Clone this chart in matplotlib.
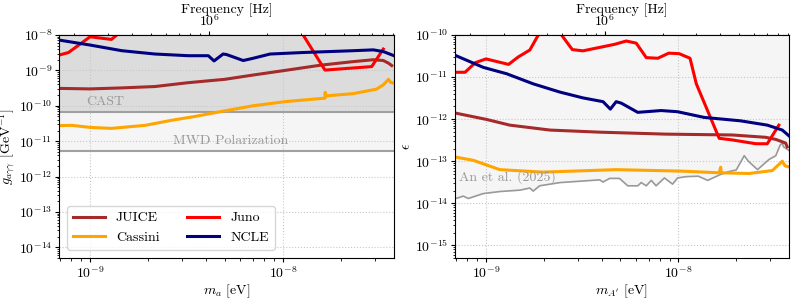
import matplotlib
matplotlib.use("Agg")
import matplotlib.pyplot as plt

plt.rcParams['font.family'] = 'serif'
plt.rcParams['font.serif'] = ['cmr10']
plt.rcParams['mathtext.fontset'] = 'cm'
plt.rcParams['axes.formatter.use_mathtext'] = True
plt.rcParams['font.size'] = 10

# ---- axion panel (left) ----
juice_m = [6.9e-10, 1.0e-9, 1.46e-9, 2.17e-9, 3.23e-9, 5.0e-9, 7.0e-9, 1.0e-8,
           1.56e-8, 2.31e-8, 2.94e-8, 3.31e-8, 3.52e-8, 3.66e-8]
juice_g = [3.1e-10, 3.0e-10, 3.2e-10, 3.5e-10, 4.5e-10, 5.6e-10, 7.4e-10, 9.8e-10,
           1.4e-9, 1.77e-9, 2.0e-9, 1.9e-9, 1.6e-9, 1.37e-9]

cassini_m = [6.9e-10, 8.04e-10, 1.0e-9, 1.29e-9, 1.93e-9, 2.65e-9, 3.5e-9, 5.0e-9,
             7.0e-9, 1.04e-8, 1.65e-8, 1.655e-8, 1.66e-8, 2.31e-8, 3.05e-8, 3.31e-8,
             3.52e-8, 3.61e-8, 3.72e-8]
cassini_g = [2.75e-11, 2.8e-11, 2.45e-11, 2.3e-11, 2.8e-11, 3.9e-11, 5.0e-11, 7.2e-11,
             1.0e-10, 1.32e-10, 1.64e-10, 2.4e-10, 1.9e-10, 2.2e-10, 2.95e-10, 3.9e-10,
             5.6e-10, 4.6e-10, 4.4e-10]

juno_m_ax = [6.9e-10, 7.73e-10, 1.0e-9, 1.29e-9, 1.6e-9, 5.0e-9, 1.2e-8, 1.65e-8,
             2.88e-8, 3.31e-8]
juno_g = [2.7e-9, 3.2e-9, 8.9e-9, 7.5e-9, 2.0e-8, 2.0e-8, 1.66e-8, 1.02e-9,
          1.28e-9, 4.0e-9]

ncle_m_ax = [6.9e-10, 1.0e-9, 1.46e-9, 2.17e-9, 3.23e-9, 4.1e-9, 4.39e-9, 4.89e-9,
             5.1e-9, 6.22e-9, 7.0e-9, 8.57e-9, 1.27e-8, 2.31e-8, 2.94e-8, 3.31e-8, 3.76e-8]
ncle_g = [7.2e-9, 5.2e-9, 3.6e-9, 2.9e-9, 2.6e-9, 2.6e-9, 1.85e-9, 2.9e-9,
          2.8e-9, 1.9e-9, 2.2e-9, 2.9e-9, 3.2e-9, 3.6e-9, 3.8e-9, 3.4e-9, 2.6e-9]

cast_limit = 6.6e-11
mwd_limit = 5.4e-12

# ---- dark photon panel (right) ----
juice_eps = [1.4e-12, 9.8e-13, 7.2e-13, 5.5e-13, 4.9e-13, 4.4e-13, 4.2e-13, 3.7e-13,
             3.3e-13, 2.7e-13, 2.2e-13]
juice_m_dp = [6.9e-10, 1.01e-9, 1.33e-9, 2.15e-9, 3.9e-9, 8.63e-9, 1.91e-8, 2.84e-8,
              3.21e-8, 3.61e-8, 3.68e-8]

cassini_m_dp = [6.9e-10, 8.59e-10, 1.18e-9, 1.98e-9, 4.75e-9, 1.05e-8, 1.63e-8, 1.66e-8,
                1.67e-8, 2.33e-8, 3.08e-8, 3.47e-8, 3.58e-8, 3.72e-8]
cassini_eps = [1.26e-13, 1.05e-13, 6.3e-14, 5.5e-14, 6.3e-14, 5.8e-14, 5.3e-14, 7.2e-14,
               5.3e-14, 5.1e-14, 6.0e-14, 1.0e-13, 7.8e-14, 7.4e-14]

juno_m_dp = [6.9e-10, 7.78e-10, 8.8e-10, 1.0e-9, 1.31e-9, 1.47e-9, 1.69e-9, 1.87e-9,
             2.15e-9, 2.47e-9, 2.81e-9, 3.19e-9, 4.66e-9, 5.36e-9, 6.04e-9, 6.81e-9,
             7.82e-9, 8.91e-9, 1.01e-8, 1.15e-8, 1.24e-8, 1.63e-8, 1.91e-8, 2.53e-8,
             2.90e-8, 3.33e-8]
juno_eps = [1.3e-11, 1.3e-11, 2.2e-11, 2.7e-11, 2.0e-11, 3.0e-11, 4.4e-11, 1.0e-10,
            2.0e-10, 1.0e-10, 4.5e-11, 4.2e-11, 6.0e-11, 7.2e-11, 6.4e-11, 2.9e-11,
            2.8e-11, 3.7e-11, 3.6e-11, 2.8e-11, 6.9e-12, 3.5e-13, 3.2e-13, 2.6e-13,
            2.6e-13, 7.2e-13]

ncle_m_dp = [6.9e-10, 9.68e-10, 1.28e-9, 1.76e-9, 2.42e-9, 3.19e-9, 4.06e-9, 4.43e-9,
             4.75e-9, 5.05e-9, 6.15e-9, 8.13e-9, 9.91e-9, 1.36e-8, 2.11e-8, 2.90e-8,
             3.47e-8, 3.76e-8]
ncle_eps = [3.3e-11, 1.7e-11, 1.2e-11, 6.9e-12, 4.4e-12, 3.2e-12, 2.6e-12, 1.73e-12,
            2.6e-12, 2.4e-12, 1.45e-12, 1.6e-12, 1.5e-12, 1.1e-12, 9.1e-13, 7.2e-13,
            5.5e-13, 4.0e-13]

an_m = [6.9e-10, 7.18e-10, 7.62e-10, 8.09e-10, 9.68e-10, 1.18e-9, 1.50e-9, 1.69e-9,
        1.76e-9, 1.90e-9, 2.42e-9, 2.95e-9, 3.90e-9, 4.06e-9, 4.39e-9, 4.94e-9,
        5.46e-9, 6.15e-9, 6.41e-9, 6.81e-9, 7.23e-9, 7.66e-9, 8.46e-9, 9.33e-9,
        9.91e-9, 1.10e-8, 1.27e-8, 1.42e-8, 1.65e-8, 1.84e-8, 2.0e-8, 2.20e-8,
        2.31e-8, 2.58e-8, 2.96e-8, 3.21e-8, 3.38e-8, 3.47e-8, 3.52e-8, 3.76e-8]
an_eps = [1.29e-14, 1.35e-14, 1.48e-14, 1.3e-14, 1.7e-14, 1.9e-14, 2.05e-14, 2.3e-14,
          1.95e-14, 2.6e-14, 3.1e-14, 3.3e-14, 3.6e-14, 3.2e-14, 3.9e-14, 3.9e-14,
          2.6e-14, 2.6e-14, 3.1e-14, 2.6e-14, 3.5e-14, 2.6e-14, 4.0e-14, 2.85e-14,
          4.0e-14, 4.3e-14, 4.4e-14, 3.5e-14, 4.8e-14, 5.7e-14, 6.2e-14, 1.35e-13,
          1.0e-13, 6.3e-14, 1.1e-13, 1.35e-13, 2.4e-13, 2.7e-13, 2.2e-13, 1.8e-13]

m_lim = (6.9e-10, 3.76e-8)
eV_per_Hz = 4.135667e-15


def m2f(m):
    return m / eV_per_Hz


def f2m(f):
    return f * eV_per_Hz


fig = plt.figure(figsize=(7.93, 2.98), dpi=100)
ax1 = fig.add_axes([59/793, 40/298, 335/793, 223/298])
ax2 = fig.add_axes([455/793, 40/298, 334/793, 223/298])

lw = 2.2
for ax in (ax1, ax2):
    ax.set_xscale('log')
    ax.set_yscale('log')
    ax.set_xlim(*m_lim)
    ax.grid(True, which='major', ls=':', color='#c8c8c8', lw=0.8)
    ax.tick_params(which='major', length=3, pad=2)
    ax.tick_params(which='minor', length=1.8)

# left panel
ax1.set_ylim(5e-15, 1e-8)
ax1.fill_between(m_lim, cast_limit, 1e-8, color='#dcdcdc', lw=0)
ax1.fill_between(m_lim, mwd_limit, cast_limit, color='#f5f5f5', lw=0)
ax1.axhline(cast_limit, color='#a0a0a0', lw=1.5)
ax1.axhline(mwd_limit, color='#a0a0a0', lw=1.5)
ax1.text(1.2e-9, 1.32e-10, 'CAST', color='#999999', fontsize=10, ha='center', va='center')
ax1.text(5.38e-9, 1.0e-11, 'MWD Polarization', color='#999999', fontsize=10,
         ha='center', va='center')

ax1.plot(juice_m, juice_g, color='brown', lw=lw, label='JUICE')
ax1.plot(cassini_m, cassini_g, color='orange', lw=lw, label='Cassini')
ax1.plot(juno_m_ax, juno_g, color='red', lw=lw, label='Juno')
ax1.plot(ncle_m_ax, ncle_g, color='navy', lw=lw, label='NCLE')
ax1.set_xlabel(r'$m_a$ [eV]', labelpad=1)
ax1.set_ylabel(r'$g_{a\gamma\gamma}$ [GeV$^{-1}$]', labelpad=1)
ax1.legend(loc='lower left', ncol=2, fontsize=10, handlelength=2.3,
           borderaxespad=0.6)

# right panel
ax2.set_ylim(5e-16, 1e-10)
ax2.fill_between(an_m, an_eps, 1e-10, color='#f5f5f5', lw=0)
ax2.plot(an_m, an_eps, color='#999999', lw=1.2)
ax2.text(7.2e-10, 4.1e-14, 'An et al. (2025)', color='#999999', fontsize=10,
         ha='left', va='center')
ax2.plot(juice_m_dp, juice_eps, color='brown', lw=lw)
ax2.plot(cassini_m_dp, cassini_eps, color='orange', lw=lw)
ax2.plot(juno_m_dp, juno_eps, color='red', lw=lw)
ax2.plot(ncle_m_dp, ncle_eps, color='navy', lw=lw)
ax2.set_xlabel(r"$m_{A'}$ [eV]", labelpad=1)
ax2.set_ylabel(r'$\epsilon$', labelpad=1)

for ax in (ax1, ax2):
    sec = ax.secondary_xaxis('top', functions=(m2f, f2m))
    sec.tick_params(which='major', length=3, pad=1)
    sec.tick_params(which='minor', length=1.8)
    sec.set_xlabel('Frequency [Hz]', labelpad=0)

fig.savefig('out.png', dpi=100)
